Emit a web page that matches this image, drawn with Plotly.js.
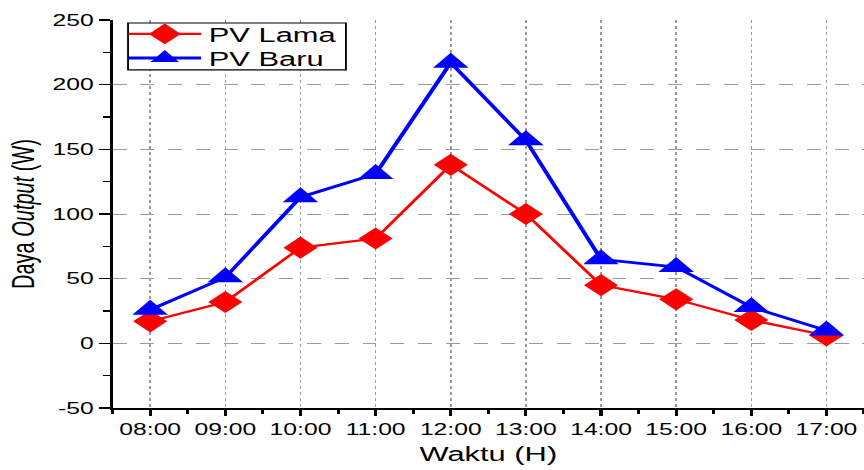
<!DOCTYPE html>
<html>
<head>
<meta charset="utf-8">
<script src="https://cdn.plot.ly/plotly-3.0.1.min.js"></script>
<style>
  html, body { margin: 0; padding: 0; background: #fff; }
  #frame { width: 864px; height: 470px; overflow: hidden; position: relative; }
  /* the chart is laid out narrow and widened horizontally */
  #chart { width: 560px; height: 470px; transform: scaleX(1.5429); transform-origin: 0 0; }
</style>
</head>
<body>
<div id="frame"><div id="chart"></div></div>
<script>
// Hourly output power of the old and new PV panels
const hours = ["08:00", "09:00", "10:00", "11:00", "12:00", "13:00", "14:00", "15:00", "16:00", "17:00"];
const pvLama = [17, 32, 74, 81, 138, 100, 45, 34, 18, 6];
const pvBaru = [26, 51, 113, 131, 217, 157, 65, 59, 28, 10];
const yTicks = [-50, 0, 50, 100, 150, 200, 250];
const yTickText = ["-50", "0", "50", "100", "150", "200", "250"];

const idx = hours.map((_, i) => i);
const font = "Liberation Sans, Arial, sans-serif";

const traces = [
  {
    x: idx, y: pvLama, name: "PV Lama", type: "scatter", mode: "lines+markers",
    legend: "legend",
    line: { color: "#ff0000", width: 2.2 },
    marker: { symbol: "diamond", size: 17, color: "#ff0000" }
  },
  {
    x: idx, y: pvBaru, name: "PV Baru", type: "scatter", mode: "lines+markers",
    legend: "legend2",
    line: { color: "#0000ff", width: 2.8 },
    marker: { symbol: "triangle-up", size: 20, color: "#0000ff" }
  }
];

// one legend per series so the rows can sit tightly inside a shared frame
const legendStyle = (yc) => ({
  x: 0.0109, y: yc, xanchor: "left", yanchor: "middle",
  bgcolor: "rgba(0,0,0,0)", borderwidth: 0,
  font: { size: 20, family: font, color: "#000" },
  itemwidth: 47
});

const layout = {
  width: 560, height: 470,
  margin: { l: 73, r: 0, t: 20, b: 62 },
  paper_bgcolor: "#fff", plot_bgcolor: "#fff",
  font: { family: font, color: "#000" },
  showlegend: true,
  legend: legendStyle(0.964),
  legend2: legendStyle(0.902),
  shapes: [{
    type: "rect", xref: "paper", yref: "paper", layer: "above",
    x0: 0.0205, x1: 0.3105, y0: 0.8712, y1: 0.9923,
    line: { color: "#000", width: 1.2 }, fillcolor: "#fff"
  }],
  xaxis: {
    range: [-0.5, 9.5],
    tickmode: "array", tickvals: idx, ticktext: hours,
    tickfont: { size: 16, family: font, color: "#000" },
    ticks: "outside", ticklen: 6, tickwidth: 2, tickcolor: "#000",
    minor: { tickmode: "linear", tick0: -0.5, dtick: 1, ticks: "outside", ticklen: 4, tickwidth: 2, tickcolor: "#000", showgrid: false },
    showline: true, linecolor: "#000", linewidth: 2,
    showgrid: true, gridcolor: "#9a9a9a", gridwidth: 1, griddash: "dot",
    zeroline: false, mirror: false,
    title: { text: "Waktu (H)", font: { size: 20, family: font, color: "#000" }, standoff: 10 }
  },
  yaxis: {
    range: [-50, 250],
    tickmode: "array", tickvals: yTicks, ticktext: yTickText,
    tickfont: { size: 16, family: font, color: "#000" },
    ticks: "outside", ticklen: 7, tickwidth: 1.5, tickcolor: "#000",
    minor: { tickmode: "linear", tick0: -25, dtick: 50, ticks: "outside", ticklen: 4, tickwidth: 1.5, tickcolor: "#000", showgrid: false },
    showline: true, linecolor: "#000", linewidth: 2,
    showgrid: true, gridcolor: "#9a9a9a", gridwidth: 1, griddash: "dash",
    zeroline: false,
    title: { text: "Daya <i>Output</i> (W)", font: { size: 20, family: font, color: "#000" }, standoff: 6 }
  }
};

Plotly.newPlot("chart", traces, layout, { displayModeBar: false, staticPlot: true });
</script>
</body>
</html>
